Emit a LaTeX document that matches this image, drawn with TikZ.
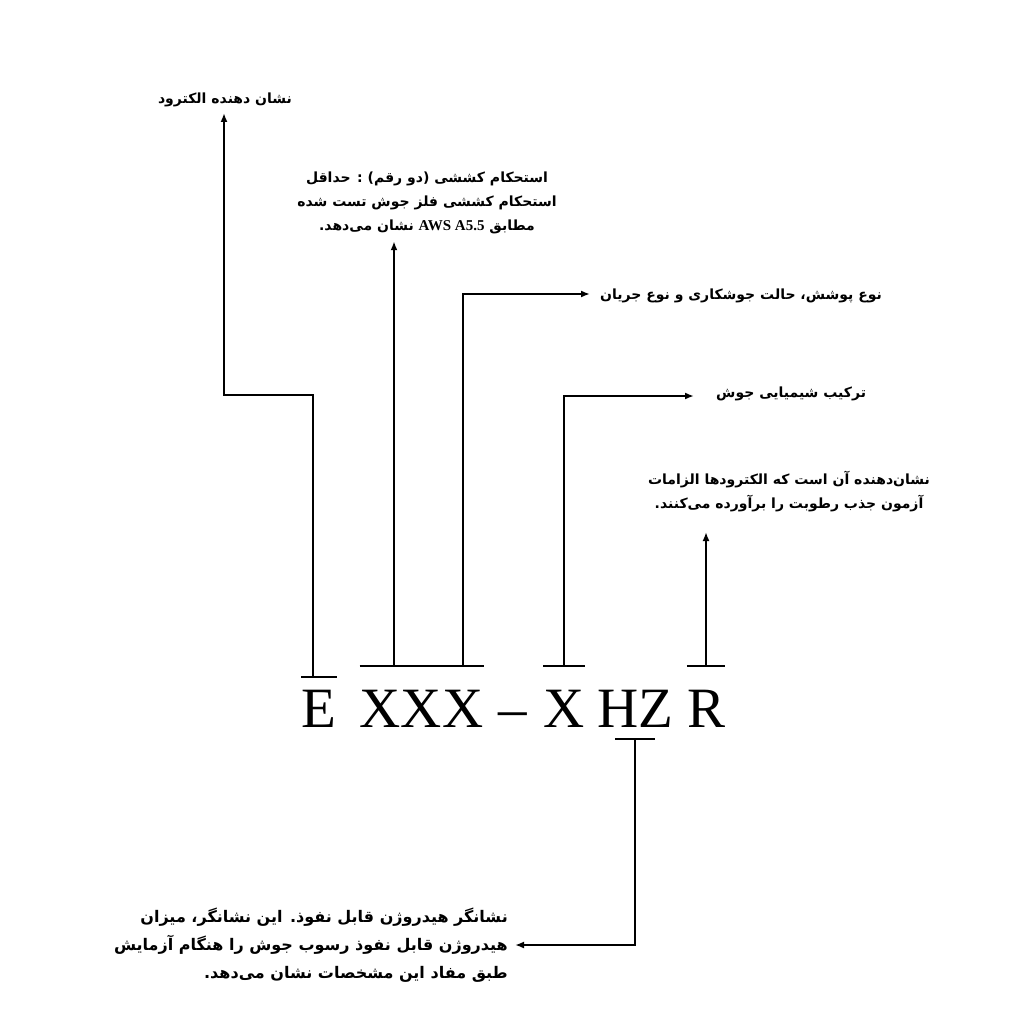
\documentclass[tikz,border=0pt]{standalone}
\usepackage{fontspec}
\setmainfont{Liberation Serif}
\newfontfamily\farsi[Script=Arabic]{DejaVu Sans}
\newfontfamily\latinf{Liberation Serif}
\TeXXeTstate=1
\usetikzlibrary{arrows.meta}
\tikzset{
    code/.style={font=\fontsize{57}{57}\selectfont,inner sep=0pt,anchor=base},
    note/.style={font=\farsi\bfseries\fontsize{14}{24}\selectfont,align=center,inner sep=0pt},
    bignote/.style={note,font=\farsi\bfseries\fontsize{16}{28}\selectfont,align=right},
    bar/.style={line width=2pt},
    lead/.style={line width=2pt,-{Latex[length=9pt,width=7pt]}},
}
\begin{document}
\begin{tikzpicture}[x=1pt,y=-1pt]
\useasboundingbox (0,0) rectangle (1024,1024);

% the code E XXX - X HZ R
\node[code] (E) at (319,727) {E};
\node[code] (XX) at (401,727) {XX};
\node[code] (X3) at (463,727) {X};
\node[code] (dash) at (513,727) {--};
\node[code] (X4) at (564,727) {X};
\node[code] (HZ) at (635,727) {HZ};
\node[code] (R) at (706,727) {R};

% labels
\node[note] (elec) at (225,100) {\beginR نشان دهنده الکترود\endR};
\node[note] (tensile) at (427,203) {\beginR استحکام کششی (دو رقم) : حداقل\endR\\
    \beginR استحکام کششی فلز جوش تست شده\endR\\
    \beginR مطابق \beginL{\latinf\bfseries\fontsize{15}{24}\selectfont AWS A5.5}\endL{} نشان می‌دهد.\endR};
\node[note,anchor=west] (coat) at (600,296) {\beginR نوع پوشش، حالت جوشکاری و نوع جریان\endR};
\node[note,anchor=west] (chem) at (716,394) {\beginR ترکیب شیمیایی جوش\endR};
\node[note] (moist) at (789,492) {\beginR نشان‌دهنده آن است که الکترودها الزامات\endR\\
    \beginR آزمون جذب رطوبت را برآورده می‌کنند.\endR};
\node[bignote,anchor=east] (hydro) at (508,945) {\beginR نشانگر هیدروژن قابل نفوذ. این نشانگر، میزان\endR\\
    \beginR هیدروژن قابل نفوذ رسوب جوش را هنگام آزمایش\endR\\
    \beginR طبق مفاد این مشخصات نشان می‌دهد.\endR};

% bars over the letters
\draw[bar] ([yshift=12pt]E.north west)--([yshift=12pt]E.north east);
\draw[bar] ([yshift=23pt]XX.north west)--([yshift=23pt]XX.north east);
\draw[bar] ([yshift=23pt]X3.north west)--([yshift=23pt]X3.north east);
\draw[bar] ([yshift=23pt]X4.north west)--([yshift=23pt]X4.north east);
\draw[bar] ([yshift=23pt]R.north west)--([yshift=23pt]R.north east);
\draw[bar] ([xshift=-20pt,yshift=-12pt]HZ.south)--([xshift=20pt,yshift=-12pt]HZ.south);

% leaders
\coordinate (eTop) at ([xshift=-6pt,yshift=12pt]E.north);
\coordinate (xxTop) at ([xshift=-7pt,yshift=23pt]XX.north);
\coordinate (rTip) at (706,532);
\draw[lead] (eTop)|-(224,395)--(224,113);
\draw[lead] (xxTop)--([yshift=-7pt]xxTop|-tensile.south);
\draw[lead] ([yshift=23pt]X3.north)|-([xshift=-10pt,yshift=2pt]coat.west);
\draw[lead] ([yshift=23pt]X4.north)|-([xshift=-22pt,yshift=-2pt]chem.west);
\draw[lead] ([yshift=23pt]R.north)--(rTip);
\draw[lead] ([yshift=-12pt]HZ.south)|-([xshift=7pt]hydro.east);
\end{tikzpicture}
\end{document}
